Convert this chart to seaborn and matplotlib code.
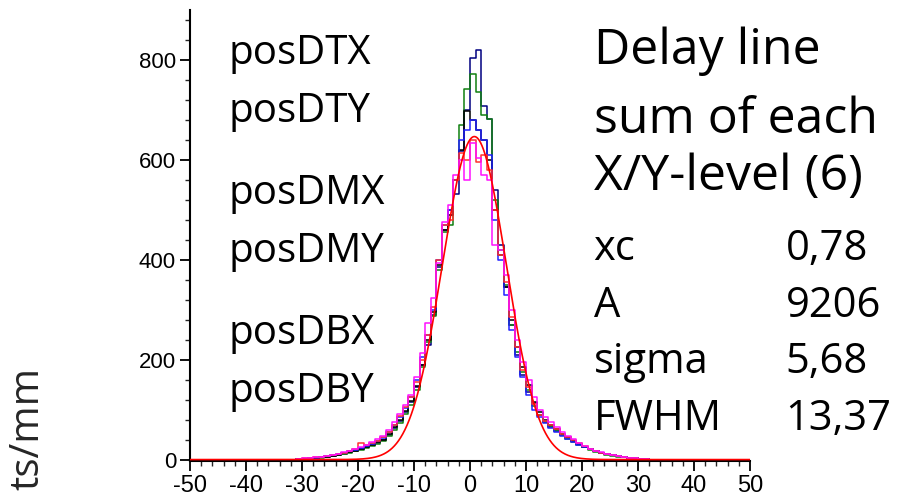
import numpy as np
import pandas as pd
import seaborn as sns
import matplotlib.pyplot as plt
from matplotlib.ticker import MultipleLocator

# bin left edges -31 ... 31 (1 mm bins), counts per bin
bin_left = list(range(-31, 32))

posDTX = [1, 2, 3, 4, 5, 6, 8, 10, 13, 15, 18, 22, 26, 30, 35, 40, 52, 66, 80, 98, 118, 148, 190, 240, 295, 390, 460,
          490, 560, 620, 698, 680, 660, 640, 600, 500, 410,
          345, 280, 225, 185, 150, 115, 95, 80, 70, 62, 52, 45, 38, 32, 26, 21, 17, 14, 11, 9, 7, 5, 4, 3, 2, 1]
posDTY = [2, 3, 4, 5, 6, 8, 9, 12, 14, 17, 21, 34, 30, 34, 38, 46, 56, 70, 88, 105, 125, 155, 200, 250, 305, 400, 470,
          480, 560, 613, 600, 640, 595, 610, 580, 500, 410,
          355, 285, 225, 180, 145, 112, 90, 78, 70, 62, 52, 46, 40, 33, 27, 22, 17, 14, 12, 9, 7, 5, 4, 3, 2, 1]
posDMX = [1, 2, 3, 4, 5, 7, 9, 11, 14, 17, 20, 24, 27, 31, 37, 43, 55, 70, 85, 104, 125, 160, 205, 250, 300, 400, 470,
          500, 560, 640, 660, 680, 660, 640, 610, 480, 400,
          330, 260, 205, 165, 130, 100, 85, 74, 64, 56, 48, 42, 36, 30, 25, 21, 17, 14, 12, 10, 8, 6, 4, 3, 2, 1]
posDMY = [1, 1, 2, 3, 4, 5, 7, 9, 11, 14, 17, 20, 24, 28, 32, 38, 48, 60, 74, 92, 110, 140, 185, 235, 287, 380, 455,
          470, 560, 670, 742, 771, 736, 690, 681, 520, 420,
          350, 270, 215, 175, 140, 108, 90, 76, 68, 58, 50, 42, 36, 30, 25, 20, 16, 13, 10, 8, 6, 5, 4, 3, 2, 1]
posDBX = [2, 3, 4, 5, 6, 8, 10, 12, 15, 18, 22, 26, 30, 35, 41, 48, 60, 75, 92, 110, 130, 165, 213, 273, 323, 393, 475,
          510, 570, 600, 560, 633, 604, 570, 560, 430, 420,
          370, 300, 240, 195, 160, 125, 100, 85, 75, 66, 56, 48, 41, 34, 28, 22, 18, 15, 12, 10, 8, 6, 4, 3, 2, 1]
posDBY = [1, 2, 3, 4, 5, 6, 8, 10, 12, 15, 18, 21, 25, 29, 34, 39, 50, 64, 78, 95, 115, 145, 190, 230, 290, 385, 460,
          500, 531, 617, 700, 803, 819, 707, 681, 540, 430,
          345, 270, 210, 170, 135, 113, 90, 75, 66, 58, 50, 43, 37, 31, 26, 21, 17, 14, 12, 9, 7, 5, 4, 3, 2, 1]

series_names = ["posDTX", "posDTY", "posDMX", "posDMY", "posDBX", "posDBY"]
series_counts = [posDTX, posDTY, posDMX, posDMY, posDBX, posDBY]
series_colors = ["black", "#ff3030", "#2020ff", "#108010", "#ff10ff", "#000080"]

# gauss fit shown in the plot
fit_xc = 0.78
fit_A = 9206
fit_sigma = 5.68
fit_fwhm = 13.37

rows = []
for name, counts in zip(series_names, series_counts):
    for x, c in zip(bin_left, counts):
        rows.append({"series": name, "pos": x + 0.5, "count": c})
df = pd.DataFrame(rows)

sns.set_style("ticks")
plt.rcParams["font.family"] = ["Liberation Sans", "DejaVu Sans"]
plt.rcParams["axes.unicode_minus"] = False

fig = plt.figure(figsize=(9.02, 4.99), dpi=100)
ax = fig.add_axes([0.2106, 0.076, 0.6209, 0.904])

# navy first, the lighter colours on top of it
draw_order = ["posDBY", "posDMY", "posDTX", "posDMX", "posDTY", "posDBX"]
for name in draw_order:
    i = series_names.index(name)
    sub = df[df["series"] == name]
    sns.histplot(data=sub, x="pos", weights="count", binwidth=1, binrange=(-50, 50),
                 element="step", fill=False, color=series_colors[i], linewidth=1.1, ax=ax)

# fitted gaussian
xf = np.linspace(-50, 50, 801)
yf = fit_A / (fit_sigma * np.sqrt(2 * np.pi)) * np.exp(-(xf - fit_xc) ** 2 / (2 * fit_sigma ** 2))
sns.lineplot(x=xf, y=yf, color="red", linewidth=1.2, ax=ax, zorder=5)

ax.set_xlim(-50, 50)
ax.set_ylim(-3, 900)
ax.set_xlabel("")
ax.set_ylabel("")
ax.xaxis.set_major_locator(MultipleLocator(10))
ax.xaxis.set_minor_locator(MultipleLocator(2))
ax.yaxis.set_major_locator(MultipleLocator(200))
ax.yaxis.set_minor_locator(MultipleLocator(40))
ax.tick_params(axis="both", which="major", direction="out", length=7, width=1.3, colors="black")
ax.tick_params(axis="both", which="minor", direction="out", length=3.5, width=1.0)
ax.tick_params(axis="x", labelsize=17, pad=3)
ax.tick_params(axis="y", labelsize=16, pad=3)
for s in ["top", "right"]:
    ax.spines[s].set_visible(False)
for s in ["left", "bottom"]:
    ax.spines[s].set_linewidth(1.5)
    ax.spines[s].set_color("black")

# text blocks
big = dict(family=["Open Sans", "DejaVu Sans"], color="black", va="center", ha="left")
label_y = [0.892, 0.776, 0.611, 0.495, 0.331, 0.214]
for name, y in zip(series_names, label_y):
    fig.text(0.2528, y, name, fontsize=29, **big)

base = dict(family=["Open Sans", "DejaVu Sans"], color="black", va="baseline", ha="left")
fig.text(0.658, 0.8717, "Delay line", fontsize=36, **base)
fig.text(0.658, 0.7335, "sum of each", fontsize=36, **base)
fig.text(0.658, 0.6192, "X/Y-level (6)", fontsize=36, **base)

fit_labels = ["xc", "A", "sigma", "FWHM"]
fit_values = ["0,78", "9206", "5,68", "13,37"]
fit_y = [0.479, 0.3647, 0.2525, 0.1383]
for lab, val, y in zip(fit_labels, fit_values, fit_y):
    fig.text(0.658, y, lab, fontsize=30, **base)
    fig.text(0.871, y, val, fontsize=30, **base)

fig.text(0.031, 0.142, "ts/mm", fontsize=29, rotation=90,
         family=["Open Sans", "DejaVu Sans"], va="center", ha="center")

fig.savefig("out.png", dpi=100)
